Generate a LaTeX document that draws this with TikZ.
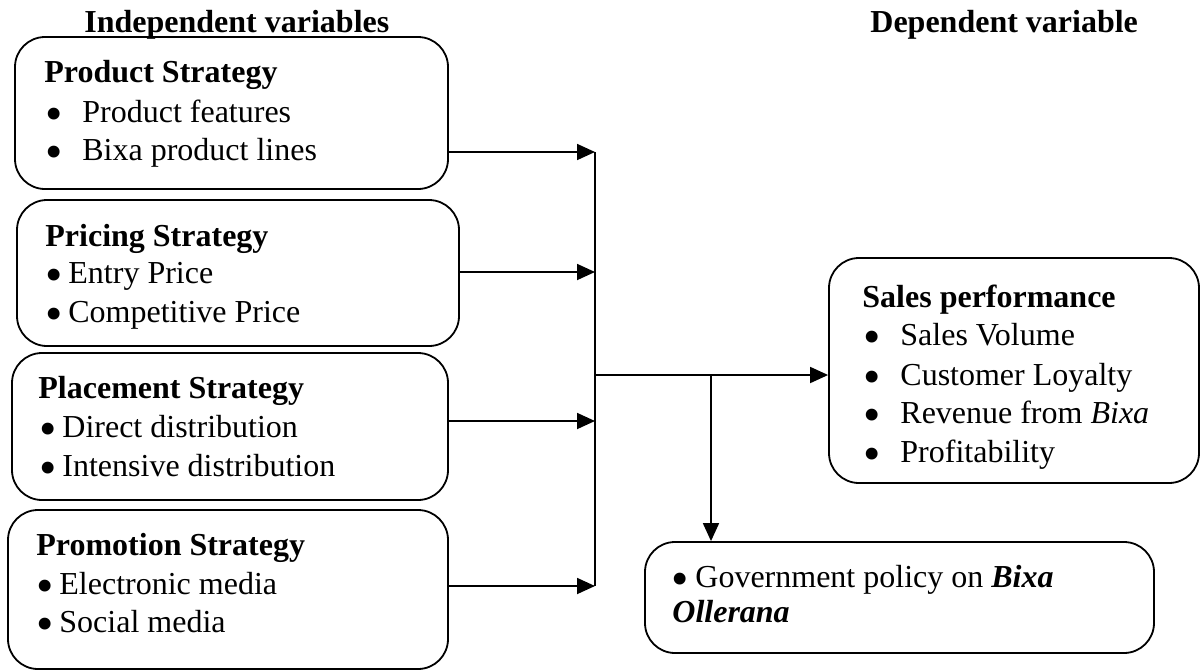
\documentclass[tikz,border=0pt]{standalone}
\usepackage{fontspec}
\setmainfont{Liberation Serif}
\usetikzlibrary{arrows.meta,fit}
\newcommand{\bul}{\smash{\raisebox{-4.3pt}{\scalebox{1.55}{•}}}}
\begin{document}
\begin{tikzpicture}[x=0.5pt,y=-0.5pt,
  box/.style={draw, line width=0.9pt, rounded corners=15pt, inner sep=0pt},
  txt/.style={anchor=base west, inner sep=0pt, font=\fontsize{16}{19}\selectfont},
  hd/.style={anchor=base west, inner sep=0pt, font=\fontsize{16}{19}\selectfont\bfseries},
  arr/.style={-{Triangle[length=9pt,width=8pt]}, line width=0.9pt},
  ln/.style={line width=0.9pt}]
\useasboundingbox (0,0) rectangle (1201,671);

% headers
\node[hd] (hind) at (84,32) {Independent variables};
\node[hd] (hdep) at (870,32) {Dependent variable};

% boxes
\node[box, fit={(15,37) (448,189)}] (b1) {};
\node[box, fit={(17,200) (459,346)}] (b2) {};
\node[box, fit={(12,353) (448,500)}] (b3) {};
\node[box, fit={(8,510) (448,669)}] (b4) {};
\node[box, fit={(829,258) (1199,483)}] (sp) {};
\node[box, fit={(645,542) (1154,653)}] (gov) {};

% box 1
\node[hd] (t1) at (44,82) {Product Strategy};
\node[txt] (t1a) at (45,122) {\makebox[18.5pt][l]{\bul}Product features};
\node[txt] (t1b) at (45,160) {\makebox[18.5pt][l]{\bul}Bixa product lines};
% box 2
\node[hd] (t2) at (45,246) {Pricing Strategy};
\node[txt] (t2a) at (45,283) {\makebox[11.5pt][l]{\bul}Entry Price};
\node[txt] (t2b) at (45,322) {\makebox[11.5pt][l]{\bul}Competitive Price};
% box 3
\node[hd] (t3) at (38,398) {Placement Strategy};
\node[txt] (t3a) at (39,437) {\makebox[11.5pt][l]{\bul}Direct distribution};
\node[txt] (t3b) at (39,476) {\makebox[11.5pt][l]{\bul}Intensive distribution};
% box 4
\node[hd] (t4) at (36,555) {Promotion Strategy};
\node[txt] (t4a) at (36,594) {\makebox[11.5pt][l]{\bul}Electronic media};
\node[txt] (t4b) at (36,632) {\makebox[11.5pt][l]{\bul}Social media};
% sales performance
\node[hd] (ts) at (862,307) {Sales performance};
\node[txt] (tsa) at (863,345) {\makebox[18.5pt][l]{\bul}Sales Volume};
\node[txt] (tsb) at (863,385) {\makebox[18.5pt][l]{\bul}Customer Loyalty};
\node[txt] (tsc) at (863,423) {\makebox[18.5pt][l]{\bul}Revenue from \textit{Bixa}};
\node[txt] (tsd) at (863,462) {\makebox[18.5pt][l]{\bul}Profitability};
% government
\node[txt] (tga) at (671,587) {\makebox[12pt][l]{\bul}Government policy on \textbf{\textit{Bixa}}};
\node[txt] (tgb) at (672,622) {\textbf{\textit{Ollerana}}};

% connectors
\coordinate (j1) at (595,152);
\coordinate (j2) at (595,272);
\coordinate (j3) at (595,421);
\coordinate (j4) at (595,586);
\coordinate (m) at (595,375);
\coordinate (br) at (711,375);
\draw[arr] (b1.east |- j1) -- (j1);
\draw[arr] (b2.east |- j2) -- (j2);
\draw[arr] (b3.east |- j3) -- (j3);
\draw[arr] (b4.east |- j4) -- (j4);
\draw[ln] (j1) -- (j4);
\draw[arr] (m) -- (sp.west |- m);
\draw[arr] (br) -- (br |- gov.north);
\end{tikzpicture}
\end{document}
